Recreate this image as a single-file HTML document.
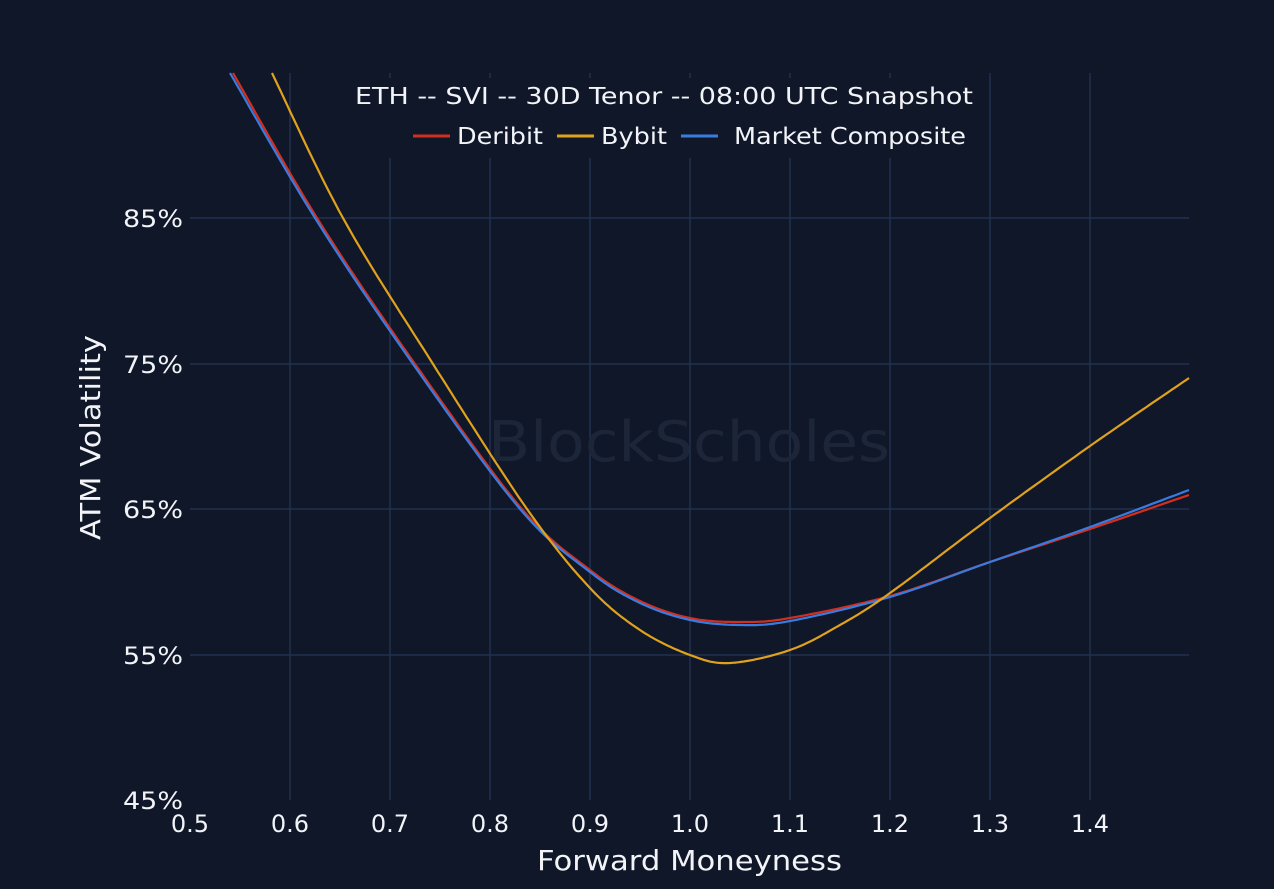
<!DOCTYPE html>
<html><head><meta charset="utf-8"><style>
html,body{margin:0;padding:0;background:#0f1729;}
svg{display:block}
text{font-family:"DejaVu Sans","Liberation Sans",sans-serif;fill:#f2f4f8}
</style></head><body>
<svg id="s" width="1274" height="889" viewBox="0 0 1274 889" xmlns="http://www.w3.org/2000/svg">
<rect width="1274" height="889" fill="#0f1729"/>
<g stroke="#22304f" stroke-width="1.5">
<line x1="290" y1="73" x2="290" y2="800"/><line x1="390" y1="73" x2="390" y2="800"/>
<line x1="490" y1="73" x2="490" y2="800"/><line x1="590" y1="73" x2="590" y2="800"/>
<line x1="690" y1="73" x2="690" y2="800"/><line x1="790" y1="73" x2="790" y2="800"/>
<line x1="890" y1="73" x2="890" y2="800"/><line x1="990" y1="73" x2="990" y2="800"/>
<line x1="1090" y1="73" x2="1090" y2="800"/>
<line x1="190" y1="218" x2="1189" y2="218"/><line x1="190" y1="364" x2="1189" y2="364"/>
<line x1="190" y1="509" x2="1189" y2="509"/><line x1="190" y1="655" x2="1189" y2="655"/>
</g>
<text x="488" y="461" font-size="56" textLength="402" lengthAdjust="spacingAndGlyphs" style="fill:#1d2638">BlockScholes</text>
<rect x="345" y="78" width="640" height="80" fill="#0f1729"/>
<g fill="none" stroke-width="2.2" stroke-linejoin="round">
<polyline id="der" stroke="#d32f1e"/>
<polyline id="com" stroke="#3a7be0"/>
<polyline id="byb" stroke="#e0a21c"/>
</g>
<text x="355" y="104" font-size="23" textLength="618" lengthAdjust="spacingAndGlyphs">ETH -- SVI -- 30D Tenor -- 08:00 UTC Snapshot</text>
<line x1="413" y1="136" x2="450" y2="136" stroke="#d32f1e" stroke-width="3"/>
<text x="457" y="144" font-size="23" textLength="86" lengthAdjust="spacingAndGlyphs">Deribit</text>
<line x1="557" y1="136" x2="594" y2="136" stroke="#e0a21c" stroke-width="3"/>
<text x="601" y="144" font-size="23" textLength="66" lengthAdjust="spacingAndGlyphs">Bybit</text>
<line x1="681" y1="136" x2="718" y2="136" stroke="#3a7be0" stroke-width="3"/>
<text x="734" y="144" font-size="23" textLength="232" lengthAdjust="spacingAndGlyphs">Market Composite</text>
<g font-size="24">
<text x="123" y="227" textLength="60" lengthAdjust="spacingAndGlyphs">85%</text>
<text x="123" y="373" textLength="60" lengthAdjust="spacingAndGlyphs">75%</text>
<text x="123" y="518" textLength="60" lengthAdjust="spacingAndGlyphs">65%</text>
<text x="123" y="664" textLength="60" lengthAdjust="spacingAndGlyphs">55%</text>
<text x="123" y="809" textLength="60" lengthAdjust="spacingAndGlyphs">45%</text>
</g>
<g font-size="24" text-anchor="middle">
<text x="190" y="832">0.5</text><text x="290" y="832">0.6</text><text x="390" y="832">0.7</text>
<text x="490" y="832">0.8</text><text x="590" y="832">0.9</text><text x="690" y="832">1.0</text>
<text x="790" y="832">1.1</text><text x="890" y="832">1.2</text><text x="990" y="832">1.3</text>
<text x="1090" y="832">1.4</text>
</g>
<text x="537" y="870" font-size="28" textLength="305" lengthAdjust="spacingAndGlyphs">Forward Moneyness</text>
<text transform="translate(100,540) rotate(-90)" font-size="28" textLength="205" lengthAdjust="spacingAndGlyphs">ATM Volatility</text>
</svg>
<script>
function spline(k){
  var pts=k.map(function(p){return [190+(p[0]-0.5)*1000,p[1]];});
  var out=[];
  for(var i=0;i<pts.length-1;i++){
    var p0=pts[i>0?i-1:i],p1=pts[i],p2=pts[i+1],p3=pts[i+2<pts.length?i+2:i+1];
    for(var t=0;t<1;t+=0.05){
      var t2=t*t,t3=t2*t;
      var f=function(a,b,c,d){return 0.5*(2*b+(-a+c)*t+(2*a-5*b+4*c-d)*t2+(-a+3*b-3*c+d)*t3);};
      out.push(f(p0[0],p1[0],p2[0],p3[0]).toFixed(1)+","+f(p0[1],p1[1],p2[1],p3[1]).toFixed(1));
    }
  }
  var l=pts[pts.length-1];out.push(l[0]+","+l[1]);
  return out.join(" ");
}
document.getElementById("com").setAttribute("points",spline([[0.54,73],[0.625,218],[0.723,364],[0.83,509],[0.9,572],[0.95,603],[1.0,620],[1.05,625],[1.1,621],[1.2,597],[1.3,562],[1.4,527],[1.499,490]]));
document.getElementById("der").setAttribute("points",spline([[0.543,73],[0.627,218],[0.725,364],[0.831,508],[0.9,570],[0.95,601],[1.0,618],[1.05,622],[1.1,618],[1.2,596],[1.3,562],[1.4,529],[1.499,495]]));
document.getElementById("byb").setAttribute("points",spline([[0.582,73],[0.653,218],[0.743,364],[0.837,509],[0.9,588],[0.95,630],[1.0,655],[1.04,663],[1.1,650],[1.15,625],[1.2,593],[1.3,518],[1.4,446],[1.499,378]]));
</script>
</body></html>
